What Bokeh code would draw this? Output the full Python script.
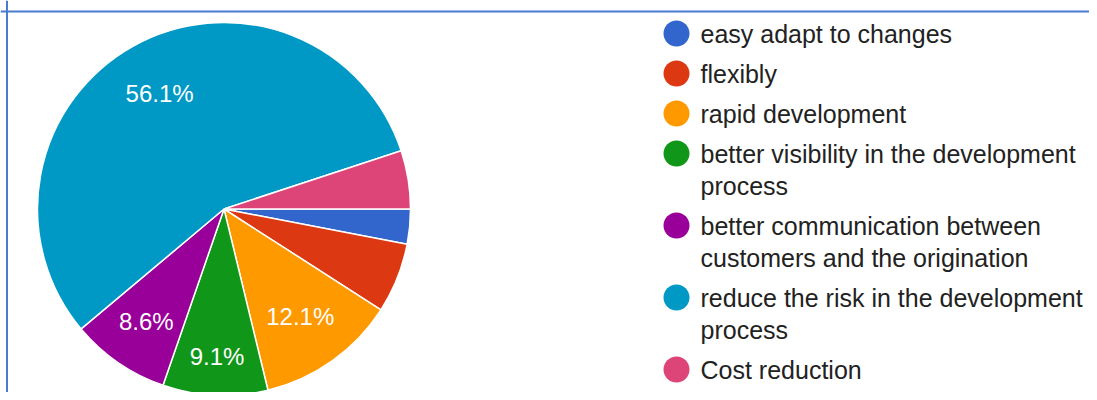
import math
from bokeh.plotting import figure
from bokeh.models import Range1d, Span, ColumnDataSource
from bokeh.embed import file_html
from bokeh.resources import INLINE
from bokeh.core.properties import value

# ---- data ----
categories = [
    "easy adapt to changes",
    "flexibly",
    "rapid development",
    "better visibility in the development process",
    "better communication between customers and the origination",
    "reduce the risk in the development process",
    "Cost reduction",
]
legend_lines = [
    ["easy adapt to changes"],
    ["flexibly"],
    ["rapid development"],
    ["better visibility in the development", "process"],
    ["better communication between", "customers and the origination"],
    ["reduce the risk in the development", "process"],
    ["Cost reduction"],
]
counts = [6, 12, 24, 18, 17, 111, 10]
colors = ["#3366cc", "#dc3912", "#ff9900", "#109618", "#990099", "#0099c6", "#dd4477"]

# ---- layout (picture pixel coordinates) ----
W, H = 1089, 392
def Y(py):
    return H - py

cx, cy, R = 223.5, Y(208.5), 186.5
label_rf = [0.7, 0.7, 0.705, 0.79, 0.735, 0.71, 0.7]
FONT = "Liberation Sans"

p = figure(width=W, height=H, output_backend="svg", toolbar_location=None,
           x_range=Range1d(0, W), y_range=Range1d(0, H),
           min_border=0)
p.axis.visible = False
p.xgrid.visible = False
p.ygrid.visible = False
p.outline_line_color = None
p.background_fill_color = "white"
p.border_fill_color = "white"

total = float(sum(counts))
fr = [c / total for c in counts]
cum = [0.0]
for f in fr:
    cum.append(cum[-1] + f)

# clockwise starting at 3 o'clock
starts = [-2 * math.pi * cum[i + 1] for i in range(len(fr))]
ends = [-2 * math.pi * cum[i] for i in range(len(fr))]

src = ColumnDataSource(dict(start=starts, end=ends, color=colors))
p.wedge(x=cx, y=cy, radius=R, start_angle="start", end_angle="end",
        fill_color="color", line_color="white", line_width=1.5, source=src)

# slice labels
lx, ly, lt = [], [], []
for i, f in enumerate(fr):
    pct = f * 100
    if pct < 7:
        continue
    mid = -2 * math.pi * (cum[i] + cum[i + 1]) / 2
    r = R * label_rf[i]
    lx.append(cx + r * math.cos(mid))
    ly.append(cy + r * math.sin(mid))
    lt.append("%.1f%%" % pct)
p.text(x=lx, y=ly, text=lt, text_color="white", text_font=value(FONT),
       text_font_size="24px", text_align="center", text_baseline="middle")

# legend
mx, tx = 676, 700
y0, item_gap, wrap_gap = 33, 40, 32
extra = 0
mxs, mys, tys, txts = [], [], [], []
for i, lines in enumerate(legend_lines):
    yy = y0 + item_gap * i + wrap_gap * extra
    mxs.append(mx)
    mys.append(Y(yy))
    for j, ln in enumerate(lines):
        tys.append(Y(yy + wrap_gap * j))
        txts.append(ln)
    extra += len(lines) - 1
p.scatter(x=mxs, y=mys, size=26, marker="circle", fill_color=colors, line_color=None)
p.text(x=[tx] * len(txts), y=tys, text=txts, text_color="#222222",
       text_font=value(FONT), text_font_size="25px", text_align="left",
       text_baseline="middle")

# frame lines
p.add_layout(Span(location=Y(11), dimension="width", line_color="#4a7bd0", line_width=2))
p.add_layout(Span(location=6.5, dimension="height", line_color="#4a7bd0", line_width=2))

open("out.html", "w").write(file_html(p, INLINE))
